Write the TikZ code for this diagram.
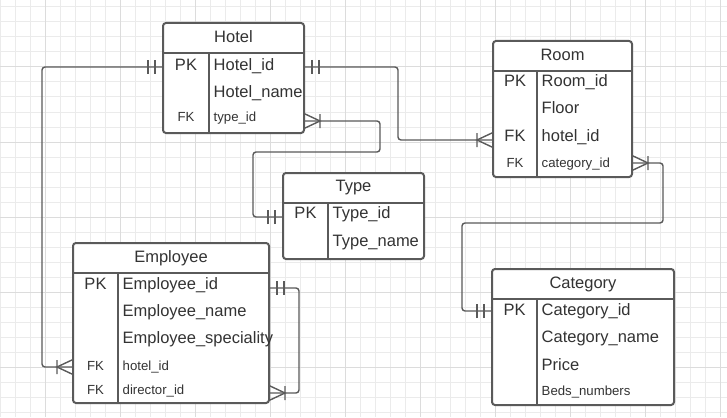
\documentclass[tikz,border=0pt]{standalone}
\usepackage{fontspec}
\setmainfont{Liberation Sans}
\definecolor{ln}{HTML}{5A5A5A}
\definecolor{tx}{HTML}{333333}
\definecolor{gmin}{HTML}{EBEBEB}
\definecolor{gmaj}{HTML}{DCDCDC}
\begin{document}
\begin{tikzpicture}[x=1pt,y=-1pt,
  tbl/.style={draw=ln,line width=2pt,rounded corners=3pt,inner sep=0pt,fill=white},
  sepline/.style={draw=ln,line width=2pt},
  big/.style={font=\fontsize{16.5}{18}\selectfont,text=tx,inner sep=0pt,text height=11.8pt,text depth=0pt},
  small/.style={font=\fontsize{13.2}{15}\selectfont,text=tx,inner sep=0pt,text height=9.5pt,text depth=0pt},
  conn/.style={draw=ln,line width=1.4pt,rounded corners=3pt},
  onemark/.pic={\draw[draw=ln,line width=1.4pt] (8,-7) -- (8,7) (15,-7) -- (15,7);},
  manymark/.pic={\draw[draw=ln,line width=1.4pt] (0,-7.5) -- (16,0) -- (0,7.5) (16,-7) -- (16,7);}
]
\useasboundingbox (0,0) rectangle (727,417);
\fill[white] (0,0) rectangle (727,417);
% grid
\foreach \gx in {0,15,...,720} \draw[gmin,line width=1pt] (\gx,0) -- (\gx,417);
\foreach \gy in {7,22,...,412} \draw[gmin,line width=1pt] (0,\gy) -- (727,\gy);
\foreach \gx in {45,120,...,720} \draw[gmaj,line width=1pt] (\gx,0) -- (\gx,417);
\foreach \gy in {67,142,...,412} \draw[gmaj,line width=1pt] (0,\gy) -- (727,\gy);

% tables
\node[tbl,minimum width=141pt,minimum height=110pt] (hotel) at (233.5,78) {};
\draw[sepline] (163,53) -- (304,53) (209,53) -- (209,133);
\node[tbl,minimum width=139pt,minimum height=136pt] (room) at (562.5,109) {};
\draw[sepline] (493,71) -- (632,71) (537,71) -- (537,177);
\node[tbl,minimum width=141pt,minimum height=86pt] (type) at (353.5,216) {};
\draw[sepline] (283,203) -- (424,203) (328,203) -- (328,259);
\node[tbl,minimum width=196pt,minimum height=160pt] (employee) at (171,323) {};
\draw[sepline] (73,273) -- (269,273) (118,273) -- (118,403);
\node[tbl,minimum width=182pt,minimum height=136pt] (category) at (583,337) {};
\draw[sepline] (492,299) -- (674,299) (537,299) -- (537,405);

% Hotel texts
\node[big] (hT) at (233.5,37) {Hotel};
\node[big] (hPK) at (186,65) {PK};
\node[big,anchor=west] (hA1) at (213.5,65) {Hotel\_id};
\node[big,anchor=west] (hA2) at (213.5,92) {Hotel\_name};
\node[small] (hFK) at (186,117) {FK};
\node[small,anchor=west] (hA3) at (213.5,117) {type\_id};

% Room texts
\node[big] (rT) at (562.5,55) {Room};
\node[big] (rPK) at (515,81) {PK};
\node[big,anchor=west] (rA1) at (541.5,81) {Room\_id};
\node[big,anchor=west] (rA2) at (541.5,108) {Floor};
\node[big] (rFK1) at (515,136) {FK};
\node[big,anchor=west] (rA3) at (541.5,136) {hotel\_id};
\node[small] (rFK2) at (515,163) {FK};
\node[small,anchor=west] (rA4) at (541.5,163) {category\_id};

% Type texts
\node[big] (tT) at (353.5,186) {Type};
\node[big] (tPK) at (305.5,213) {PK};
\node[big,anchor=west] (tA1) at (332.5,213) {Type\_id};
\node[big,anchor=west] (tA2) at (332.5,241) {Type\_name};

% Employee texts
\node[big] (eT) at (171,257) {Employee};
\node[big] (ePK) at (95.5,284) {PK};
\node[big,anchor=west] (eA1) at (122.5,284) {Employee\_id};
\node[big,anchor=west] (eA2) at (122.5,311) {Employee\_name};
\node[big,anchor=west] (eA3) at (122.5,338) {Employee\_speciality};
\node[small] (eFK1) at (95.5,366) {FK};
\node[small,anchor=west] (eA4) at (122.5,366) {hotel\_id};
\node[small] (eFK2) at (95.5,390) {FK};
\node[small,anchor=west] (eA5) at (122.5,390) {director\_id};

% Category texts
\node[big] (cT) at (583,283) {Category};
\node[big] (cPK) at (514.5,310) {PK};
\node[big,anchor=west] (cA1) at (541.5,310) {Category\_id};
\node[big,anchor=west] (cA2) at (541.5,337) {Category\_name};
\node[big,anchor=west] (cA3) at (541.5,365) {Price};
\node[small,anchor=west] (cA4) at (541.5,391) {Beds\_numbers};

% ports
\coordinate (pHotelW) at (163,67);
\coordinate (pHotelE) at (304,67);
\coordinate (pHotelFK) at (304,121);
\coordinate (pRoomH) at (493,140);
\coordinate (pRoomC) at (632,163);
\coordinate (pTypePK) at (283,217);
\coordinate (pEmpH) at (73,367);
\coordinate (pEmpPK) at (269,288);
\coordinate (pEmpD) at (269,393);
\coordinate (pCatPK) at (492,311);

% connectors
\draw[conn] (pHotelW) -- (42,67) -- (42,367) -- (pEmpH);
\draw[conn] (pHotelE) -- (398,67) -- (398,140) -- (pRoomH);
\draw[conn] (pHotelFK) -- (380,121) -- (380,152) -- (253,152) -- (253,217) -- (pTypePK);
\draw[conn] (pRoomC) -- (663,163) -- (663,223) -- (462,223) -- (462,311) -- (pCatPK);
\draw[conn] (pEmpPK) -- (299,288) -- (299,393) -- (pEmpD);

% end marks
\pic[rotate=180] at (pHotelW) {onemark};
\pic at (pHotelE) {onemark};
\pic at (pHotelFK) {manymark};
\pic[rotate=180] at (pRoomH) {manymark};
\pic at (pRoomC) {manymark};
\pic[rotate=180] at (pTypePK) {onemark};
\pic[rotate=180] at (pEmpH) {manymark};
\pic at (pEmpPK) {onemark};
\pic at (pEmpD) {manymark};
\pic[rotate=180] at (pCatPK) {onemark};
\end{tikzpicture}
\end{document}
